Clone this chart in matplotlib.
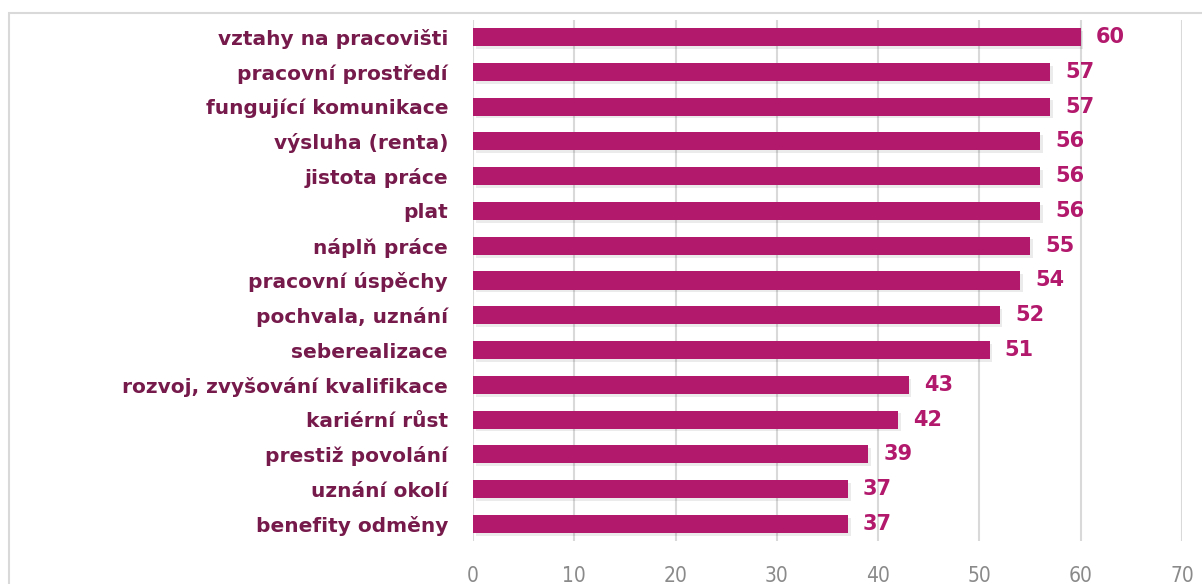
import matplotlib
matplotlib.use("Agg")
import matplotlib.pyplot as plt
from matplotlib.patches import Rectangle
import matplotlib.patheffects as pe

categories = ["vztahy na pracovišti", "pracovní prostředí", "fungující komunikace",
              "výsluha (renta)", "jistota práce", "plat", "náplň práce",
              "pracovní úspěchy", "pochvala, uznání", "seberealizace",
              "rozvoj, zvyšování kvalifikace", "kariérní růst", "prestiž povolání",
              "uznání okolí", "benefity odměny"]
values = [60, 57, 57, 56, 56, 56, 55, 54, 52, 51, 43, 42, 39, 37, 37]
xticks = [0, 10, 20, 30, 40, 50, 60, 70]

bar_color = "#B2186C"
label_color = "#761A4B"
grid_color = "#D9D9D9"

fig = plt.figure(figsize=(12.02, 5.84), dpi=100)
fig.patches.append(Rectangle((9/1202, -0.1), 1.2, 1 - 13/584 + 0.1, transform=fig.transFigure,
                             fill=False, edgecolor=grid_color, linewidth=1.5))
ax = fig.add_axes([473/1202, 1 - 541.4/584, (1182-473)/1202, (541.4-19.6)/584])

ypos = list(range(len(categories)))
ax.barh(ypos, values, height=0.52, color=bar_color, zorder=3,
        path_effects=[pe.SimplePatchShadow(offset=(2, -2), shadow_rgbFace="#000000", alpha=0.08), pe.Normal()])
ax.set_ylim(len(categories) - 0.5, -0.5)
ax.set_xlim(0, 70)
ax.set_xticks(xticks)
ax.set_xticklabels([str(t) for t in xticks], fontsize=15, color="#8A8A8A",
                   family="DejaVu Sans", stretch="condensed")
ax.set_yticks(ypos)
ax.set_yticklabels(categories, fontsize=14.5, fontweight="bold", color=label_color, family="DejaVu Sans")
ax.tick_params(axis="y", length=0, pad=18)
ax.tick_params(axis="x", length=0, pad=18)
for s in ax.spines.values():
    s.set_visible(False)
ax.grid(axis="x", color=grid_color, linewidth=1.5, zorder=0)
ax.set_axisbelow(True)

for y, v in zip(ypos, values):
    ax.text(v + 1.5, y, str(v), va="center", ha="left", fontsize=15, fontweight="bold",
            color=bar_color, family="DejaVu Sans")

fig.savefig("out.png", dpi=100)
